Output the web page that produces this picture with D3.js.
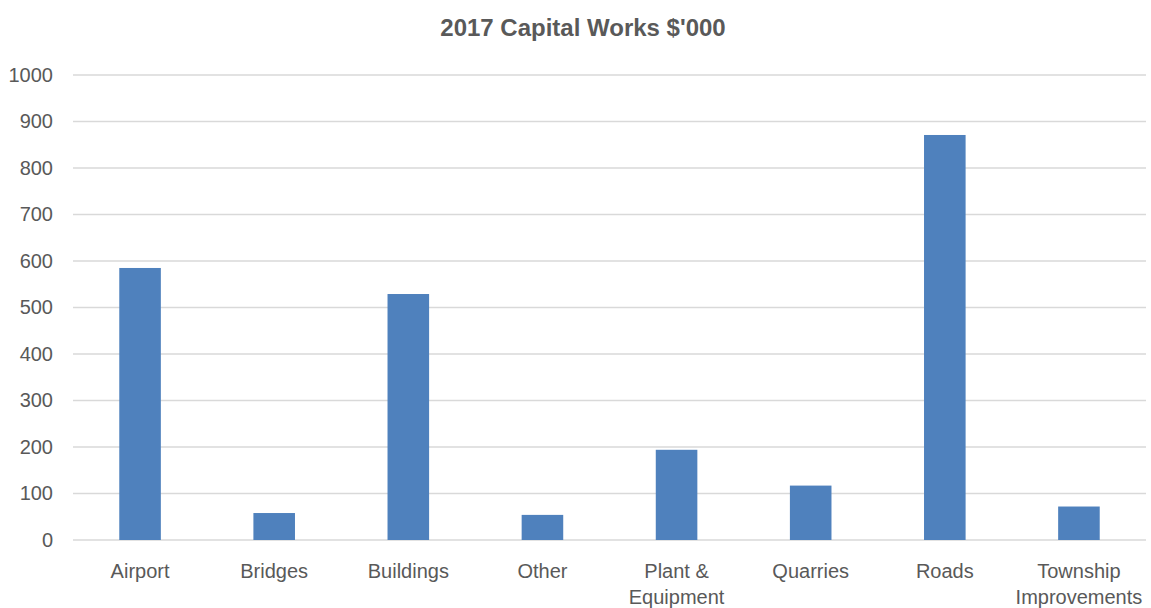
<!DOCTYPE html>
<html>
<head>
<meta charset="utf-8">
<script src="https://cdn.jsdelivr.net/npm/d3@7"></script>
<style>
  body { margin: 0; background: #fff; }
  svg text { font-family: "Liberation Sans Narrow", "Arial Narrow", "Liberation Sans", Arial, sans-serif; fill: #595959; }
</style>
</head>
<body>
<div id="chart"></div>
<script>
// chart data
let categories = ['Airport', 'Bridges', 'Buildings', 'Other', 'Plant & Equipment', 'Quarries', 'Roads', 'Township Improvements'];
let values = [585, 58, 529, 54, 194, 117, 871, 72];
let yTicks = [0, 100, 200, 300, 400, 500, 600, 700, 800, 900, 1000];
let title = "2017 Capital Works $'000";

let width = 1151;
let height = 608;
let margin = { top: 75, right: 5, bottom: 68, left: 73 };

let svg = d3.select('#chart').append('svg')
  .attr('width', width)
  .attr('height', height);

let x = d3.scaleBand()
  .domain(categories)
  .range([margin.left, width - margin.right])
  .paddingInner(0.69)
  .paddingOuter(0.345);

let y = d3.scaleLinear()
  .domain([0, 1000])
  .range([height - margin.bottom, margin.top]);

// gridlines
svg.append('g')
  .selectAll('line')
  .data(yTicks)
  .enter().append('line')
  .attr('x1', margin.left)
  .attr('x2', width - margin.right)
  .attr('y1', d => y(d))
  .attr('y2', d => y(d))
  .style('stroke', '#d9d9d9')
  .style('stroke-width', 1.5);

// y axis labels
let yAxis = d3.axisLeft(y)
  .tickValues(yTicks)
  .tickFormat(d3.format('d'))
  .tickSize(0)
  .tickPadding(0);
svg.append('g')
  .attr('transform', `translate(${margin.left - 20},0)`)
  .call(yAxis)
  .call(g => g.select('.domain').remove())
  .selectAll('text')
  .style('font-size', '20px')
  .attr('fill', '#595959');

// bars
svg.append('g')
  .selectAll('rect')
  .data(values)
  .enter().append('rect')
  .attr('x', (d, i) => x(categories[i]))
  .attr('y', d => y(d))
  .attr('width', x.bandwidth())
  .attr('height', d => y(0) - y(d))
  .style('fill', '#4f81bd');

// x labels, wrapped to two lines where needed
let wrap = {
  'Plant & Equipment': ['Plant &', 'Equipment'],
  'Township Improvements': ['Township', 'Improvements']
};
let xLabels = svg.append('g')
  .selectAll('text')
  .data(categories)
  .enter().append('text')
  .attr('x', d => x(d) + x.bandwidth() / 2)
  .attr('y', 578)
  .attr('text-anchor', 'middle')
  .style('font-size', '20px');
xLabels.each(function(d) {
  let lines = wrap[d] || [d];
  let t = d3.select(this);
  lines.forEach((l, i) => {
    t.append('tspan')
      .attr('x', x(d) + x.bandwidth() / 2)
      .attr('dy', i === 0 ? 0 : 26)
      .text(l);
  });
});

// title
svg.append('text')
  .attr('x', 583)
  .attr('y', 36)
  .attr('text-anchor', 'middle')
  .style('font-size', '24px')
  .style('font-weight', 'bold')
  .text(title);
</script>
</body>
</html>
